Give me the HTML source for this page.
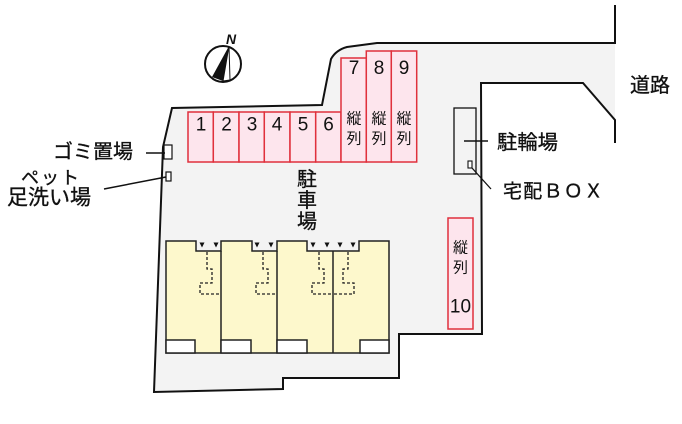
<!DOCTYPE html>
<html><head><meta charset="utf-8"><style>
html,body{margin:0;padding:0;background:#fff;}
svg{display:block;}
text{font-family:"Liberation Sans","Noto Sans CJK JP",sans-serif;fill:#111;}
.lb{stroke:#111;stroke-width:0.35;}
</style></head><body>
<svg width="682" height="424" viewBox="0 0 682 424" xmlns="http://www.w3.org/2000/svg">
<!-- site fill -->
<path d="M172,108 L322,105 L331,59 Q336,50 347,47 L377,43 L615,43 L615,120 L583,83 L481,83 L482,334 L399,334 L399,378 L283,378 L283,389 L154,392 L163,147 Z" fill="#f3f3f3"/>
<!-- site border -->
<path d="M615,5 L615,43 L377,43 L347,47 Q336,50 331,59 L322,105 L172,108 L163,147 L154,392 L283,389 L283,378 L399,378 L399,334 L482,334 L481,83 L583,83 L615,120 L615,143" fill="none" stroke="#111" stroke-width="2"/>

<!-- parking slots -->
<g fill="#fde5ed" stroke="#e0303c" stroke-width="1.5">
<rect x="188" y="112" width="25.3" height="50"/>
<rect x="213.3" y="112" width="25.7" height="50"/>
<rect x="239" y="112" width="25.3" height="50"/>
<rect x="264.3" y="112" width="25.7" height="50"/>
<rect x="290" y="112" width="25.7" height="50"/>
<rect x="315.7" y="112" width="25.3" height="50"/>
<rect x="341" y="58" width="25.3" height="104"/>
<rect x="366.3" y="51" width="25" height="111"/>
<rect x="391.3" y="51" width="25.4" height="111"/>
<rect x="448" y="218" width="25" height="111"/>
</g>
<g font-size="19" text-anchor="middle" dominant-baseline="central">
<text x="201" y="125">1</text>
<text x="226.5" y="125">2</text>
<text x="252" y="125">3</text>
<text x="277" y="125">4</text>
<text x="303" y="125">5</text>
<text x="328.5" y="125">6</text>
<text x="354" y="68.5">7</text>
<text x="379" y="68.5">8</text>
<text x="404" y="68.5">9</text>
<text x="460.5" y="307">10</text>
</g>
<g font-size="15" text-anchor="middle" dominant-baseline="central" style="fill:#333">
<text x="354" y="119">縦</text><text x="354" y="139">列</text>
<text x="379" y="119">縦</text><text x="379" y="139">列</text>
<text x="404" y="119">縦</text><text x="404" y="139">列</text>
<text x="460.5" y="248">縦</text><text x="460.5" y="268">列</text>
</g>

<!-- 駐車場 -->
<g font-size="20" text-anchor="middle" dominant-baseline="central" class="lb">
<text x="307" y="180">駐</text>
<text x="307" y="201">車</text>
<text x="307" y="222">場</text>
</g>

<!-- building -->
<path d="M166,241 L196,241 L196,251 L221,251 L221,241 L252,241 L252,251 L277,251 L277,241 L307,241 L307,251 L359,251 L359,241 L389,241 L389,353 L166,353 Z" fill="#fdf8cc" stroke="#222" stroke-width="1.5"/>
<g stroke="#222" stroke-width="1.5">
<line x1="221" y1="251" x2="221" y2="353"/>
<line x1="277" y1="251" x2="277" y2="353"/>
<line x1="333" y1="251" x2="333" y2="353"/>
</g>
<g fill="#fff" stroke="#222" stroke-width="1.5">
<rect x="166" y="340" width="29" height="13"/>
<rect x="221" y="340" width="30" height="13"/>
<rect x="277" y="340" width="30" height="13"/>
<rect x="360" y="340" width="29" height="13"/>
</g>
<g fill="#111">
<path d="M199.5,242.5 h5 l-2.5,5 z"/>
<path d="M213.5,242.5 h5 l-2.5,5 z"/>
<path d="M254.5,242.5 h5 l-2.5,5 z"/>
<path d="M268.5,242.5 h5 l-2.5,5 z"/>
<path d="M310.5,242.5 h5 l-2.5,5 z"/>
<path d="M324.5,242.5 h5 l-2.5,5 z"/>
<path d="M337.5,242.5 h5 l-2.5,5 z"/>
<path d="M350.5,242.5 h5 l-2.5,5 z"/>
</g>
<g fill="none" stroke="#222" stroke-width="1.3" stroke-dasharray="3,2">
<polyline points="207,252 207,269 212,269 212,283 200,283 200,294 221,294"/>
<polyline points="263,252 263,269 268,269 268,283 256,283 256,294 277,294"/>
<polyline points="319,252 319,269 324,269 324,283 312,283 312,294 333,294"/>
<polyline points="348,252 348,269 343,269 343,283 354,283 354,294 333,294"/>
</g>

<!-- compass -->
<circle cx="223" cy="64" r="18" fill="#fff" stroke="#111" stroke-width="2"/>
<polygon points="229,46 212,77 223,81" fill="#111"/>
<polygon points="229,46 223,81 230,80" fill="#fff" stroke="#111" stroke-width="1"/>
<text x="231" y="39" font-size="14" font-weight="bold" font-style="italic" text-anchor="middle" dominant-baseline="central">N</text>

<!-- small boxes left -->
<rect x="164" y="145" width="8" height="14" fill="#fff" stroke="#111" stroke-width="1.2"/>
<rect x="166" y="172" width="5" height="9" fill="#fff" stroke="#111" stroke-width="1.2"/>
<line x1="146" y1="153" x2="165" y2="153" stroke="#111" stroke-width="1.5"/>
<line x1="104" y1="189" x2="166" y2="177" stroke="#111" stroke-width="1.5"/>
<text class="lb" x="53" y="152" font-size="19.5" dominant-baseline="central" textLength="80" lengthAdjust="spacingAndGlyphs">ゴミ置場</text>
<text class="lb" x="21" y="178" font-size="18" dominant-baseline="central" textLength="58" lengthAdjust="spacing">ペット</text>
<text class="lb" x="7" y="198" font-size="21" dominant-baseline="central" textLength="84" lengthAdjust="spacingAndGlyphs">足洗い場</text>

<!-- bike parking -->
<rect x="454" y="108" width="22" height="66" fill="none" stroke="#111" stroke-width="1.3"/>
<rect x="468" y="161" width="4" height="7" fill="#fff" stroke="#111" stroke-width="1.1"/>
<line x1="464" y1="141" x2="488" y2="141" stroke="#111" stroke-width="1.5"/>
<line x1="472" y1="168" x2="491" y2="189" stroke="#111" stroke-width="1.3"/>
<text class="lb" x="497" y="143" font-size="20" dominant-baseline="central" textLength="61" lengthAdjust="spacingAndGlyphs">駐輪場</text>
<text class="lb" x="503" y="192" font-size="19" dominant-baseline="central" textLength="100" lengthAdjust="spacing">宅配ＢＯＸ</text>
<text class="lb" x="630" y="86" font-size="20" dominant-baseline="central" textLength="40" lengthAdjust="spacingAndGlyphs">道路</text>
</svg>
</body></html>
